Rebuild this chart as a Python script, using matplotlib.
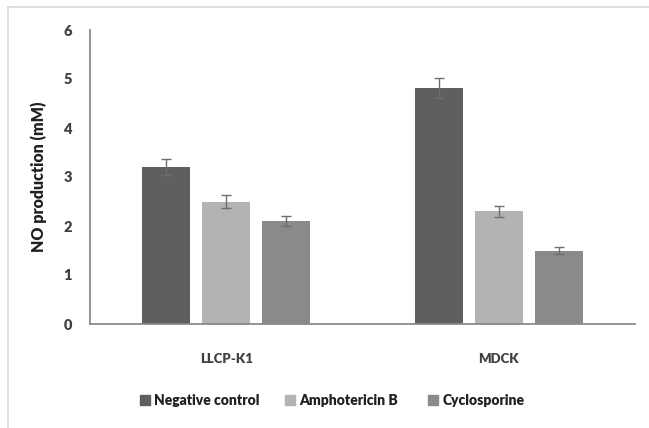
import matplotlib

matplotlib.use("Agg")
import matplotlib.pyplot as plt
import numpy as np
from matplotlib.lines import Line2D

# ── Data ──────────────────────────────────────────────────────────────────────
cells = ["LLCP-K1", "MDCK"]
treatments = ["Negative control", "Amphotericin B", "Cyclosporine"]
neg_ctrl = [3.2, 4.82]
ampho = [2.5, 2.3]
cyclo = [2.1, 1.5]
neg_err = [0.16, 0.2]
ampho_err = [0.13, 0.11]
cyclo_err = [0.1, 0.07]

COLORS = ["#5f5f5f", "#b3b3b3", "#8a8a8a"]
AXIS = "#8a8a8a"
TXT = "#404040"

plt.rcParams["font.family"] = ["Lato", "DejaVu Sans"]

fig = plt.figure(figsize=(6.49, 4.28), dpi=100)
ax = fig.add_axes([90 / 649, 104 / 428, 545 / 649, 294 / 428])

x = np.arange(len(cells))
width, step = 0.176, 0.22
series = [(neg_ctrl, neg_err), (ampho, ampho_err), (cyclo, cyclo_err)]
for i, (vals, errs) in enumerate(series):
    ax.bar(
        x + (i - 1) * step,
        vals,
        width,
        yerr=errs,
        color=COLORS[i],
        label=treatments[i],
        error_kw=dict(ecolor="#6e6e6e", elinewidth=1.0, capsize=3.5, capthick=1.0),
        zorder=2,
    )

ax.set_xlim(-0.5, 1.5)
ax.set_ylim(0, 6)
ax.set_yticks(range(0, 7))
ax.set_xticks(x)
ax.set_xticklabels(cells, fontweight="heavy", fontsize=9.5, color=TXT)
for t in ax.get_yticklabels():
    t.set_fontweight("heavy")
    t.set_fontsize(10.5)
    t.set_color(TXT)
ax.tick_params(axis="both", length=0)
ax.tick_params(axis="x", pad=21)
ax.tick_params(axis="y", pad=13)
for s in ["top", "right"]:
    ax.spines[s].set_visible(False)
for s in ["left", "bottom"]:
    ax.spines[s].set_color(AXIS)
    ax.spines[s].set_linewidth(1.3)

ax.set_ylabel("NO production (mM)", fontweight="heavy", fontsize=11.5, color="#202020", labelpad=12)

# legend: one entry per box so the column gaps match the original
leg_x = [141, 286, 429]  # left edge of each legend square, px
for c, name, lx in zip(COLORS, treatments, leg_x):
    h = Line2D([], [], marker="s", linestyle="none", markersize=6.5, color=c)
    fig.legend(
        [h],
        [name],
        loc="center left",
        bbox_to_anchor=(lx / 649, 0.065),
        frameon=False,
        borderpad=0,
        borderaxespad=0,
        handlelength=0.6,
        handletextpad=0.35,
        prop=dict(weight="heavy", size=10),
        labelcolor="#202020",
    )

# light frame round the chart (left and top edges)
fig.add_artist(Line2D([8 / 649, 8 / 649], [0, 1 - 7 / 428], color="#d8d8d8", lw=1.2))
fig.add_artist(Line2D([8 / 649, 1], [1 - 7 / 428, 1 - 7 / 428], color="#d8d8d8", lw=1.2))

fig.savefig("out.png", dpi=100, facecolor="white")
